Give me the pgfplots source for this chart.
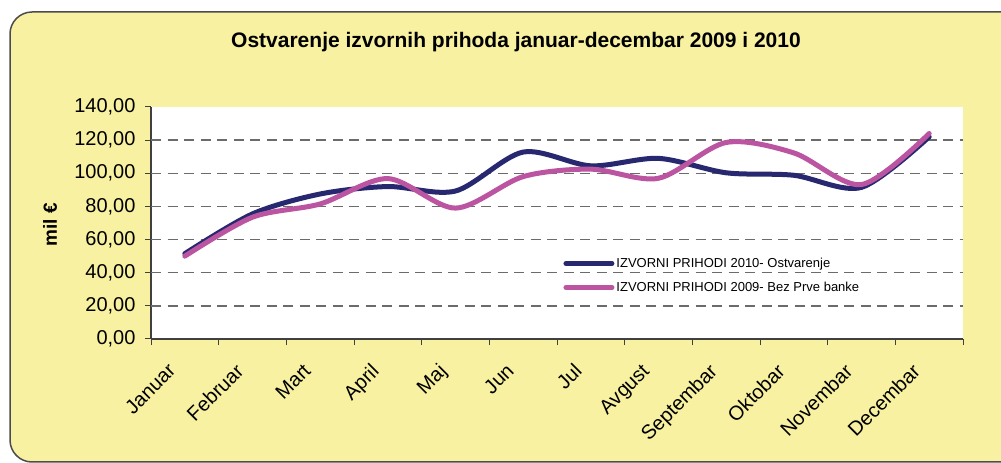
\documentclass[border=0pt]{standalone}
\usepackage{fontspec}
\setmainfont{Liberation Sans}
\usepackage{pgfplots}
\pgfplotsset{compat=1.18}
\definecolor{bgy}{RGB}{247,241,161}
\definecolor{navyc}{RGB}{40,40,112}
\definecolor{magc}{RGB}{187,84,161}
\begin{document}
\begin{tikzpicture}[x=1pt,y=1pt]
\fill[white] (0,0) rectangle (1001,463);
\filldraw[fill=bgy, draw=black!70, line width=1.5pt, rounded corners=22pt] (10,1) rectangle (1030,451);
\node[font=\bfseries\fontsize{21}{24}\selectfont] at (516,421) {Ostvarenje izvornih prihoda januar-decembar 2009 i 2010};
\node[font=\bfseries\fontsize{19}{22}\selectfont, rotate=90] at (50,238) {mil €};
\begin{axis}[
  at={(151pt,124pt)}, anchor=south west,
  scale only axis, width=812pt, height=232pt,
  xmin=0.5, xmax=12.5, ymin=0, ymax=140,
  axis x line*=bottom, axis y line*=left,
  axis line style={-, draw=black!75, line width=1.2pt},
  axis background/.style={fill=white},
  xtick={1,...,12},
  xticklabels={Januar,Februar,Mart,April,Maj,Jun,Jul,Avgust,Septembar,Oktobar,Novembar,Decembar},
  major x tick style={draw=none},
  minor xtick={0.5,1.5,...,12.5},
  ytick={0,20,...,140},
  tick align=outside,
  major tick length=6pt, minor tick length=6pt,
  tick style={draw=black!75, line width=1pt},
  xticklabel style={anchor=north east, xshift=-18pt, yshift=-12.5pt, rotate=45, font=\fontsize{20}{23}\selectfont},
  yticklabel style={font=\fontsize{20}{23}\selectfont, xshift=-6pt},
  /pgf/number format/.cd, fixed, fixed zerofill, precision=2, use comma, assume math mode=true,
  /pgfplots/.cd,
  extra y ticks={20,40,...,120},
  extra y tick labels={},
  extra y tick style={ymajorgrids=true, major tick length=0pt},
  major grid style={draw=black!58, line width=1.3pt, dash pattern=on 10pt off 6.5pt},
  clip=false,
  legend style={at={(0.504,0.367)}, anchor=north west, draw=none, fill=none,
    font=\fontsize{13}{15}\selectfont, row sep=9pt},
  legend cell align=left,
  legend image code/.code={\draw[#1, line width=5pt, line cap=round] (0pt,0pt) -- (46pt,0pt);},
]
\addplot[navyc, line width=5pt, smooth, line cap=round, line join=round] coordinates {
(1,51.5) (2,75.5) (3,87.5) (4,92) (5,89.3) (6,112.8) (7,104.5) (8,109) (9,100.3) (10,98.8) (11,91.5) (12,122)
};
\addlegendentry{IZVORNI PRIHODI 2010- Ostvarenje}
\addplot[magc, line width=5pt, smooth, line cap=round, line join=round] coordinates {
(1,50) (2,73.5) (3,81.5) (4,96.8) (5,79) (6,98) (7,102.5) (8,97) (9,118.6) (10,112.3) (11,93.2) (12,124)
};
\addlegendentry{IZVORNI PRIHODI 2009- Bez Prve banke}
\end{axis}
\pgfresetboundingbox
\useasboundingbox (0,0) rectangle (1001,463);
\end{tikzpicture}
\end{document}
